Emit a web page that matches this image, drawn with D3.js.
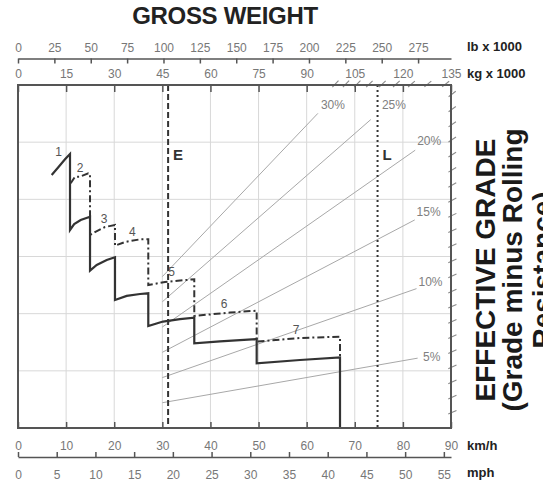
<!DOCTYPE html>
<html><head><meta charset="utf-8">
<script src="https://cdn.jsdelivr.net/npm/d3@7"></script>
<style>
html,body{margin:0;padding:0;background:#fff;}
svg{display:block;font-family:"Liberation Sans",Arial,sans-serif;}
</style></head>
<body>
<svg id="c" width="543" height="482"></svg>
<script>
// ---------- data ----------
const lbTicks = [0,25,50,75,100,125,150,175,200,225,250,275];
const kgTicks = [0,15,30,45,60,75,90,105,120,135];
const kmhTicks = [0,10,20,30,40,50,60,70,80,90];
const mphTicks = [0,5,10,15,20,25,30,35,40,45,50,55];
const speedGrid = [10,20,30,40,50,60,70,80];
const rimpullGrid = [50,100,150,200,250];

// full-power rimpull curve (solid), speed km/h vs rimpull kN
const solidSpeed   = [7.00,8.38,9.77,10.81, 10.81,11.68,13.03,14.97, 14.97,16.36,18.44,20.16, 20.16,22.59,25.36,27.08, 27.08,30.14,33.67,36.64, 36.64,41.99,49.61, 49.61,58.61,66.93, 66.93];
const solidRimpull = [221.3,228.0,235.0,239.6, 173.2,178.4,181.9,184.8, 137.6,142.6,146.9,149.3, 112.0,115.5,117.2,117.8, 89.2,93.1,95.3,96.5, 74.1,75.7,77.8, 56.6,59.5,61.8, 0];
// dash-dot curve
const ddSpeed   = [10.95,11.85,12.89,14.61,14.97, 14.97,16.00,18.08,20.16, 20.16,22.24,25.36,27.08, 27.08,30.56,36.64, 36.64,44.07,49.61, 49.61,58.61,66.93, 66.93];
const ddRimpull = [214.0,219.8,219.8,222.8,222.2, 168.8,171.4,175.8,177.5, 159.4,162.7,165.0,165.0, 125.1,127.7,130.1, 98.0,101.0,102.6, 75.5,78.7,79.9, 61.8];

const gearLabels = ['1','2','3','4','5','6','7'];
const gearLabelSpeed   = [8.46,12.89,17.88,23.76,31.95,42.82,57.78];
const gearLabelRimpull = [241.7,228.0,183.4,171.7,136.2,108.5,86.3];

// effective grade lines: gross weight (t x 1000) vs rimpull kN
const gradePct      = [5,10,15,20,25,30];
const gradeStartW   = [45,45,45,45,45,45];
const gradeStartKN  = [22.1,44.1,66.2,88.3,110.4,132.4];
const gradeEndW     = [124.6,124.25,123.7,123.85,110.0,93.5];
const gradeEndKN    = [61.1,121.9,182.0,243.0,269.8,275.2];
const gradeLabelW   = [129.0,128.6,128.0,128.2,117.2,98.2];
const gradeLabelKN  = [62.1,127.7,189.2,251.0,282.5,282.5];
const edgeTickGrades = [1,2,3,4,5,6,7,8,9,10,11,12,13,14,15,16,17,18,19,20,21,22,23,24,25,26,27,28,29,30,31];
const kNPerTonnePerPct = 0.0981;

const markerLabels  = ['E','L'];
const markerWeights = [46.8,112.1];
const markerDash    = ['6,3','2,3'];

// ---------- scales ----------
const L = 18, R = 451, T = 85, B = 428;
const xKmh = d3.scaleLinear([0,90],[L,R]);
const xKg  = d3.scaleLinear([0,135],[L,R]);
const xLb  = d3.scaleLinear([0,135*2.20462],[L,R]);
const xMph = d3.scaleLinear([0,90/1.609344],[L,R]);
const y    = d3.scaleLinear([0,300],[B,T]);

const svg = d3.select('#c');
const tickCol = '#555', labCol = '#777';

// grid
svg.append('g').selectAll('line').data(speedGrid).join('line')
  .attr('x1',d=>xKmh(d)).attr('x2',d=>xKmh(d)).attr('y1',T).attr('y2',B)
  .attr('stroke','#d8d8d8').attr('stroke-width',1);
svg.append('g').selectAll('line').data(rimpullGrid).join('line')
  .attr('x1',L).attr('x2',R).attr('y1',d=>y(d)).attr('y2',d=>y(d))
  .attr('stroke','#d8d8d8').attr('stroke-width',1);

// grade lines
const gIdx = d3.range(gradePct.length);
svg.append('g').selectAll('line').data(gIdx).join('line')
  .attr('x1',i=>xKg(gradeStartW[i])).attr('y1',i=>y(gradeStartKN[i]))
  .attr('x2',i=>xKg(gradeEndW[i])).attr('y2',i=>y(gradeEndKN[i]))
  .attr('stroke','#a8a8a8').attr('stroke-width',1);
svg.append('g').selectAll('text').data(gIdx).join('text')
  .attr('x',i=>xKg(gradeLabelW[i])).attr('y',i=>y(gradeLabelKN[i]))
  .attr('dy','0.35em').attr('text-anchor','middle')
  .attr('font-size',12).attr('fill','#808080')
  .text(i=>gradePct[i]+'%');

// edge ticks for grade scale (every 1%)
const edgeTicks = svg.append('g');
edgeTickGrades.forEach(g=>{
  let w = 135, kn = 135*kNPerTonnePerPct*g;
  if (kn > 300) { kn = 300; w = 300/(kNPerTonnePerPct*g); }
  const px = xKg(w), py = y(kn);
  let dx = px - xKg(0), dy = py - y(0);
  dy = Math.min(dy, -0.45*dx);
  const len = Math.hypot(dx,dy), ux = dx/len, uy = dy/len;
  edgeTicks.append('line')
    .attr('x1',px-ux*3).attr('y1',py-uy*3).attr('x2',px+ux*6).attr('y2',py+uy*6)
    .attr('stroke','#8a8a8a').attr('stroke-width',1.1);
});

// E / L vertical lines
markerLabels.forEach((m,i)=>{
  svg.append('line').attr('x1',xKg(markerWeights[i])).attr('x2',xKg(markerWeights[i]))
    .attr('y1',T).attr('y2',B).attr('stroke','#333').attr('stroke-width',2)
    .attr('stroke-dasharray',markerDash[i]);
  svg.append('text').attr('x',xKg(markerWeights[i])+5).attr('y',y(240)+6)
    .attr('font-size',15).attr('font-weight','bold').attr('fill','#333').text(m);
});

// rimpull curves
const line = d3.line().x(d=>xKmh(d[0])).y(d=>y(d[1]));
svg.append('path').attr('d',line(solidSpeed.map((s,i)=>[s,solidRimpull[i]])))
  .attr('fill','none').attr('stroke','#333').attr('stroke-width',2.2).attr('stroke-linejoin','miter');
svg.append('path').attr('d',line(ddSpeed.map((s,i)=>[s,ddRimpull[i]])))
  .attr('fill','none').attr('stroke','#333').attr('stroke-width',2)
  .attr('stroke-dasharray','7,3,2,3');
svg.append('g').selectAll('text').data(gearLabels).join('text')
  .attr('x',(d,i)=>xKmh(gearLabelSpeed[i])).attr('y',(d,i)=>y(gearLabelRimpull[i]))
  .attr('dy','0.35em').attr('text-anchor','middle')
  .attr('font-size',12).attr('fill','#555').text(d=>d);

// plot border
svg.append('rect').attr('x',L).attr('y',T).attr('width',R-L).attr('height',B-T)
  .attr('fill','none').attr('stroke','#555').attr('stroke-width',2);

// axes
function styleAxis(g){
  g.selectAll('text').attr('font-size',12).attr('fill',labCol)
    .attr('font-family','"Liberation Sans",Arial,sans-serif');
  g.selectAll('line').attr('stroke',tickCol).attr('stroke-width',1.5);
  g.select('.domain').attr('stroke',tickCol).attr('stroke-width',1.5);
}
svg.append('g').attr('transform','translate(0,58.5)')
  .call(d3.axisTop(xLb).tickValues(lbTicks).tickSizeInner(-5).tickSizeOuter(0).tickPadding(7))
  .call(styleAxis);
svg.append('g').attr('transform',`translate(0,${T})`)
  .call(d3.axisTop(xKg).tickValues(kgTicks).tickSizeInner(-7).tickSizeOuter(0).tickPadding(7.5))
  .call(styleAxis).call(g=>g.select('.domain').remove());
svg.append('g').attr('transform',`translate(0,${B})`)
  .call(d3.axisBottom(xKmh).tickValues(kmhTicks).tickSizeInner(-6).tickSizeOuter(0).tickPadding(13))
  .call(styleAxis).call(g=>g.select('.domain').remove());
svg.append('g').attr('transform','translate(0,457)')
  .call(d3.axisBottom(xMph).tickValues(mphTicks).tickSizeInner(-5).tickSizeOuter(0).tickPadding(13))
  .call(styleAxis);

// unit labels
const units = [['lb x 1000',51],['kg x 1000',77.5],['km/h',449.5],['mph',476.5]];
svg.append('g').selectAll('text').data(units).join('text')
  .attr('x',467).attr('y',d=>d[1]).attr('font-size',13).attr('font-weight','bold')
  .attr('fill','#222').text(d=>d[0]);

// title
svg.append('text').attr('x',225).attr('y',23.5).attr('text-anchor','middle')
  .attr('font-size',24).attr('font-weight','bold').attr('fill','#222')
  .attr('letter-spacing','-0.3').text('GROSS WEIGHT');

// right title (third line runs off the right edge, as in the reference)
const rt = ['EFFECTIVE GRADE','(Grade minus Rolling','Resistance)'];
const rtX = [495,522,552];
rt.forEach((t,i)=>{
  svg.append('text').attr('transform',`translate(${rtX[i]},270) rotate(-90)`)
    .attr('text-anchor','middle').attr('font-size',28).attr('font-weight','bold')
    .attr('fill','#1a1a1a').text(t);
});
</script>
</body></html>
